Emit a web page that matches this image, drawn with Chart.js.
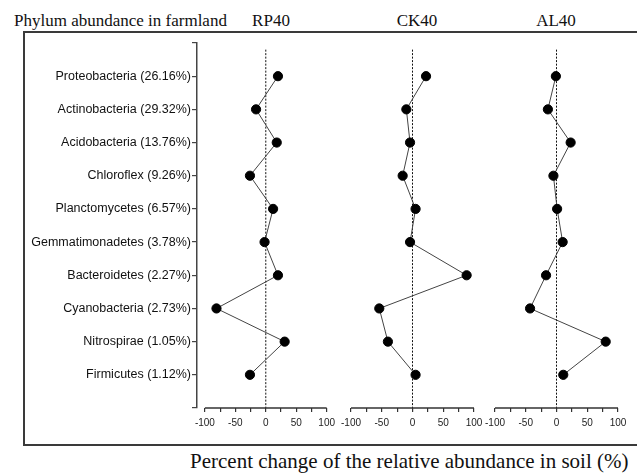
<!DOCTYPE html>
<html>
<head>
<meta charset="utf-8">
<script src="https://cdn.jsdelivr.net/npm/chart.js@4"></script>
<style>
  body { margin: 0; background: #fff; }
  #wrap { position: relative; width: 637px; height: 475px; overflow: hidden; background: #fff; }
  #frame { position: absolute; left: 23px; top: 31px; width: 620px; height: 411px;
    border-top: 2px solid #3a3a3a; border-left: 2px solid #3a3a3a; border-bottom: 2px solid #3a3a3a; }
  .serif { position: absolute; font-family: "Liberation Serif", "Times New Roman", serif; color: #111; line-height: 1; white-space: nowrap; }
  .head { width: 80px; text-align: center; font-size: 17px; top: 12px; }
  canvas { position: absolute; top: 0; }
</style>
</head>
<body>
<div id="wrap">
  <div id="frame"></div>
  <div class="serif" style="left:14px; top:12px; font-size:17px;">Phylum abundance in farmland</div>
  <div class="serif head" style="left:231px;">RP40</div>
  <div class="serif head" style="left:377px;">CK40</div>
  <div class="serif head" style="left:516px;">AL40</div>
  <div class="serif" style="left:190px; top:451px; font-size:21px;">Percent change of the relative abundance in soil (%)</div>
  <canvas id="rp" width="340" height="440" style="left:0px;"></canvas>
  <canvas id="ck" width="160" height="440" style="left:331px;"></canvas>
  <canvas id="al" width="160" height="440" style="left:475px;"></canvas>
</div>
<script>
// phyla, top to bottom
const phyla = [
  "Proteobacteria (26.16%)",
  "Actinobacteria (29.32%)",
  "Acidobacteria (13.76%)",
  "Chloroflex (9.26%)",
  "Planctomycetes (6.57%)",
  "Gemmatimonadetes (3.78%)",
  "Bacteroidetes (2.27%)",
  "Cyanobacteria (2.73%)",
  "Nitrospirae (1.05%)",
  "Firmicutes (1.12%)",
];

// percent change per treatment
const rp40 = [20, -16, 18, -26, 12, -2, 20, -81, 31, -26];
const ck40 = [22, -10, -4, -16, 5, -4, 88, -54, -40, 5];
const al40 = [-1, -14, 23, -5, 1, 10, -17, -43, 80, 11];

const xTicks = [-100, -75, -50, -25, 0, 25, 50, 75, 100];
const xLabels = ["-100", "", "-50", "", "0", "", "50", "", "100"];

// x axis line only from -100 to 100
const baseLine = {
  id: "baseLine",
  afterDraw(chart) {
    const x = chart.scales.x;
    const c = chart.ctx;
    c.save();
    c.strokeStyle = "#333";
    c.lineWidth = 1.5;
    c.beginPath();
    c.moveTo(x.getPixelForValue(-100), chart.chartArea.bottom);
    c.lineTo(x.getPixelForValue(100), chart.chartArea.bottom);
    c.stroke();
    c.restore();
  },
};

function makePanel(id, values, withLabels) {
  const points = values.map((v, i) => ({ x: v, y: i + 1 }));
  new Chart(document.getElementById(id), {
    type: "scatter",
    data: {
      datasets: [
        {
          data: [{ x: 0, y: 0.2 }, { x: 0, y: 11 }],
          showLine: true,
          borderColor: "#111",
          borderWidth: 1,
          borderDash: [2, 1.5],
          pointRadius: 0,
          order: 2,
        },
        {
          data: points,
          showLine: true,
          borderColor: "#444",
          borderWidth: 1,
          pointRadius: 4.6,
          pointBackgroundColor: "#000",
          pointBorderColor: "#000",
          order: 1,
        },
      ],
    },
    options: {
      responsive: false,
      animation: false,
      layout: {
        padding: withLabels
          ? { top: 43, left: 0, right: 12, bottom: 7 }
          : { top: 43, left: 20, right: 17, bottom: 7 },
      },
      plugins: { legend: { display: false }, tooltip: { enabled: false } },
      scales: {
        x: {
          type: "linear",
          min: withLabels ? -113 : -100,
          max: 100,
          afterBuildTicks: (s) => {
            s.ticks = xTicks.map((v) => ({ value: v }));
          },
          afterFit: (s) => {
            s.height = 25;
          },
          border: { display: false },
          grid: { drawOnChartArea: false, tickLength: 4, color: "#333", lineWidth: 1.2 },
          ticks: {
            autoSkip: false,
            maxRotation: 0,
            padding: 5,
            color: "#222",
            font: { family: "Liberation Sans", size: 10 },
            callback: (v) => xLabels[xTicks.indexOf(v)],
          },
        },
        y: {
          type: "linear",
          display: withLabels,
          reverse: true,
          min: 0,
          max: 11,
          afterBuildTicks: (s) => {
            s.ticks = [0, 1, 2, 3, 4, 5, 6, 7, 8, 9, 10, 11].map((v) => ({ value: v }));
          },
          afterFit: (s) => {
            s.width = withLabels ? 197 : 0;
          },
          border: { display: true, color: "#444", width: 1.5 },
          grid: { drawOnChartArea: false, tickLength: 5, color: "#444", lineWidth: 1.2 },
          ticks: {
            autoSkip: false,
            padding: 1,
            color: "#111",
            font: { family: "Liberation Sans", size: 12.5 },
            callback: (v) => phyla[v - 1] || "",
          },
        },
      },
    },
    plugins: [baseLine],
  });
}

makePanel("rp", rp40, true);
makePanel("ck", ck40, false);
makePanel("al", al40, false);
</script>
</body>
</html>
